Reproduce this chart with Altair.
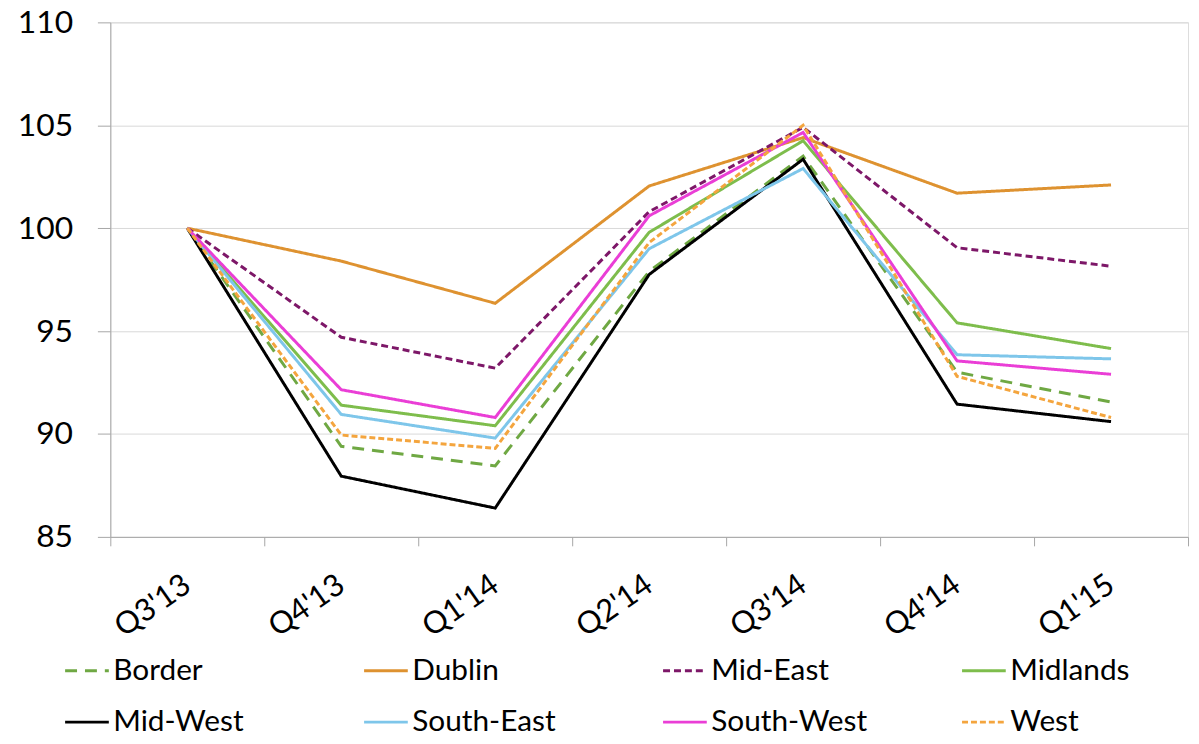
import altair as alt
import pandas as pd

quarters = ["Q3'13", "Q4'13", "Q1'14", "Q2'14", "Q3'14", "Q4'14", "Q1'15"]
regions = ["Border", "Dublin", "Mid-East", "Midlands", "Mid-West", "South-East", "South-West", "West"]

border = [100, 89.4, 88.45, 97.9, 103.5, 93.0, 91.55]
dublin = [100, 98.4, 96.35, 102.05, 104.4, 101.7, 102.1]
mid_east = [100, 94.7, 93.2, 100.8, 104.9, 99.05, 98.15]
midlands = [100, 91.4, 90.4, 99.8, 104.25, 95.4, 94.15]
mid_west = [100, 87.95, 86.4, 97.75, 103.35, 91.45, 90.6]
south_east = [100, 90.95, 89.8, 99.0, 102.9, 93.85, 93.65]
south_west = [100, 92.15, 90.8, 100.6, 104.65, 93.55, 92.9]
west = [100, 89.95, 89.3, 99.3, 105.0, 92.8, 90.8]

series = [border, dublin, mid_east, midlands, mid_west, south_east, south_west, west]
colors = ["#6FA843", "#DE9230", "#7D1768", "#7EBD4C", "#000000", "#7EC6EA", "#EA3ED6", "#F4A53E"]
dashes = [[12, 8], [1, 0], [7, 4], [1, 0], [1, 0], [1, 0], [1, 0], [6, 3]]

rows = []
for r, vals in zip(regions, series):
    for q, v in zip(quarters, vals):
        rows.append({"quarter": q, "region": r, "value": v})
df = pd.DataFrame(rows)

FONT = "Lato"

chart = alt.Chart(df).mark_line(strokeWidth=3).encode(
    x=alt.X("quarter:N", sort=quarters, bandPosition=0.5, title=None,
            scale=alt.Scale(type="band", paddingInner=0, paddingOuter=0),
            axis=alt.Axis(tickBand="extent", labelAngle=-35, labelAlign="right",
                          labelBaseline="middle", labelFontSize=31, labelFont=FONT,
                          labelColor="#000000", labelPadding=36, domainColor="#A6A6A6",
                          tickColor="#A6A6A6", tickSize=9, grid=False)),
    y=alt.Y("value:Q", title=None,
            scale=alt.Scale(domain=[85, 110], nice=False, zero=False),
            axis=alt.Axis(values=[85, 90, 95, 100, 105, 110], labelFontSize=32,
                          labelFont=FONT, labelColor="#000000", labelPadding=25,
                          domainColor="#A6A6A6", tickColor="#A6A6A6", tickSize=13,
                          gridColor="#D9D9D9", gridWidth=1)),
    color=alt.Color("region:N", sort=regions, title=None,
                    scale=alt.Scale(domain=regions, range=colors),
                    legend=alt.Legend(orient="none", legendX=-47, legendY=629,
                                      direction="horizontal", columns=4,
                                      symbolType="stroke", symbolSize=1936,
                                      symbolStrokeWidth=3, labelFontSize=30,
                                      labelFont=FONT, labelColor="#000000",
                                      gridAlign="all", columnPadding=88,
                                      rowPadding=13, labelOffset=3, labelLimit=300)),
    strokeDash=alt.StrokeDash("region:N", sort=regions, title=None,
                              scale=alt.Scale(domain=regions, range=dashes)),
    detail="region:N",
).properties(
    width=1085, height=518,
    autosize=alt.AutoSizeParams(type="none"),
    padding={"left": 103, "top": 12, "right": 3, "bottom": 198},
).configure_view(stroke=None).configure(background="#FFFFFF")

chart.save("out.html", embed_options={"renderer": "svg", "actions": False})
